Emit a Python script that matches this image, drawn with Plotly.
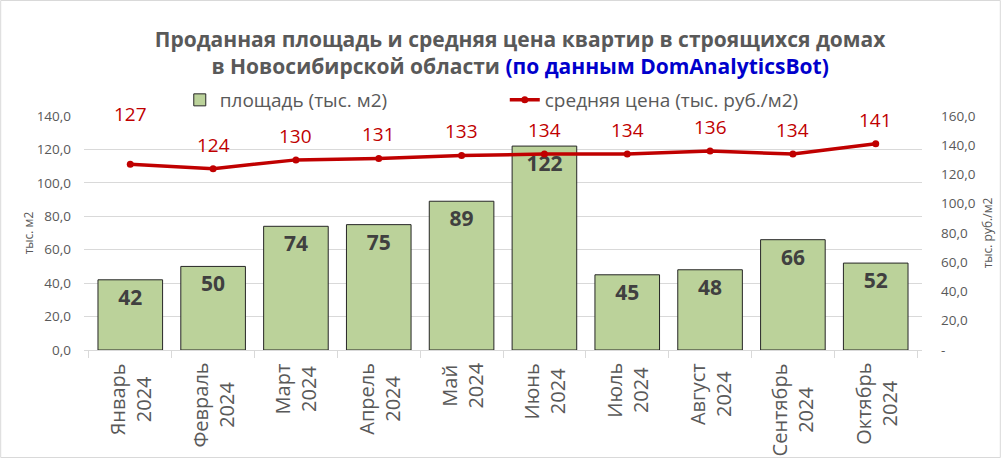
import plotly.graph_objects as go

months = ["Январь", "Февраль", "Март", "Апрель", "Май", "Июнь", "Июль", "Август", "Сентябрь", "Октябрь"]
year = "2024"
area = [42, 50, 74, 75, 89, 122, 45, 48, 66, 52]
price = [127, 124, 130, 131, 133, 134, 134, 136, 134, 141]

left_ticks = [0, 20, 40, 60, 80, 100, 120, 140]
right_ticks = [0, 20, 40, 60, 80, 100, 120, 140, 160]

cats = [f"{m} {year}" for m in months]

def fmt(v):
    return f"{v:.1f}".replace(".", ",")

FONT = "Open Sans"
GRAY = "#595959"
RED = "#C00000"

fig = go.Figure()
fig.add_trace(go.Bar(
    x=cats, y=area, name="площадь (тыс. м2)",
    marker=dict(color="#BBD29A", line=dict(color="#262626", width=1)),
    text=[str(v) for v in area], textposition="inside", insidetextanchor="end",
    textfont=dict(family=FONT, size=21, color="#404040", weight="bold"),
    textangle=0,
))
fig.add_trace(go.Scatter(
    x=cats, y=price, name="средняя цена (тыс. руб./м2)", yaxis="y2",
    mode="lines+markers",
    line=dict(color=RED, width=3.5),
    marker=dict(color=RED, size=7, symbol="circle"),
))

# line value labels (first one moved up like in the source)
extra_shift = {0: 26}
for i, (c, v) in enumerate(zip(cats, price)):
    fig.add_annotation(
        x=c, y=v, yref="y2", text=str(v), showarrow=False,
        yshift=24 + extra_shift.get(i, 0),
        font=dict(family=FONT, size=19, color=RED),
    )

# category labels (two centred lines, rotated)
for c, m in zip(cats, months):
    fig.add_annotation(
        x=c, y=0, yref="paper", yanchor="top", yshift=-11,
        text=f"{m}<br>{year}", textangle=-90, align="center", showarrow=False,
        font=dict(family=FONT, size=20, color=GRAY),
    )

fig.update_layout(
    width=1004, height=460,
    margin=dict(l=84, r=80, t=116, b=110),
    paper_bgcolor="white", plot_bgcolor="white",
    bargap=0.22,
    title=dict(
        text="<b>Проданная площадь и средняя цена квартир в строящихся домах<br>"
             "в Новосибирской области <span style='color:#0000CC'>(по данным DomAnalyticsBot)</span></b>",
        x=0.518, xanchor="center", yref="container", y=1 - 47 / 460, yanchor="middle",
        font=dict(family=FONT, size=21, color=GRAY),
    ),
    legend=dict(
        orientation="h", x=(180 - 84) / 840, xanchor="left", y=(350 - 100) / 234, yanchor="middle",
        font=dict(family=FONT, size=19, color=GRAY),
        entrywidth=280, bgcolor="rgba(0,0,0,0)",
    ),
    xaxis=dict(
        showticklabels=False,
        showline=True, linecolor="#D9D9D9", linewidth=1,
        ticks="outside", tickson="boundaries", ticklen=7, tickcolor="#D9D9D9",
        showgrid=False,
    ),
    yaxis=dict(
        range=[0, 140], tickvals=left_ticks, ticktext=[fmt(v) for v in left_ticks],
        tickfont=dict(family=FONT, size=13.5, color=GRAY),
        showgrid=True, gridcolor="#D9D9D9", gridwidth=1, zeroline=False,
        title=dict(text="тыс. м2", font=dict(family=FONT, size=12, color=GRAY), standoff=0),
        ticklabelstandoff=12,
    ),
    yaxis2=dict(
        range=[0, 160], overlaying="y", side="right",
        tickvals=right_ticks, ticktext=["-"] + [fmt(v) for v in right_ticks[1:]],
        tickfont=dict(family=FONT, size=13.5, color=GRAY),
        showgrid=False, zeroline=False,
        title=dict(text="тыс. руб./м2", font=dict(family=FONT, size=12, color=GRAY), standoff=8),
        ticklabelstandoff=18,
    ),
    shapes=[dict(
        type="rect", xref="paper", yref="paper",
        x0=(0.5 - 84) / 840, x1=(1002.5 - 84) / 840,
        y0=(350 - 457.5) / 234, y1=(350 - 0.5) / 234,
        line=dict(color="#D9D9D9", width=1), fillcolor="rgba(0,0,0,0)", layer="below",
    )],
)

fig.write_html("out.html")
